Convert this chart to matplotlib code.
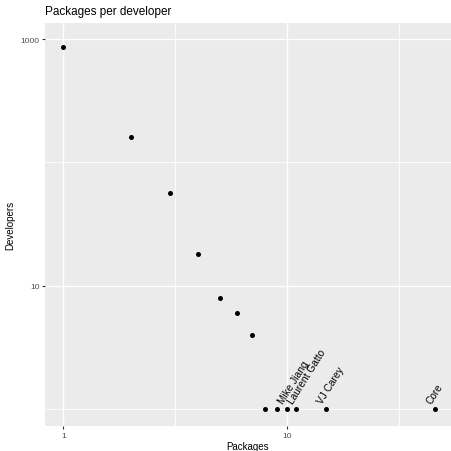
import matplotlib.pyplot as plt
from matplotlib.ticker import FixedLocator, NullFormatter

plt.rcParams["font.family"] = ["Liberation Sans", "DejaVu Sans"]

packages = [1, 2, 3, 4, 5, 6, 7, 8, 9, 10, 11, 15, 46]
developers = [857, 161, 57, 18, 8, 6, 4, 1, 1, 1, 1, 1, 1]

# labelled developers (packages, name)
label_pkgs = [10, 11, 15, 46]
label_names = ["Mike Jiang", "Laurent Gatto", "VJ Carey", "Core"]

fig = plt.figure(figsize=(4.51, 4.52), dpi=100)
ax = fig.add_axes([45 / 451, 25 / 452, 406 / 451, 403 / 452])
ax.set_facecolor("#EBEBEB")

ax.set_xscale("log")
ax.set_yscale("log")
ax.set_xlim(10 ** -0.082, 10 ** 1.733)
ax.set_ylim(10 ** -0.137, 10 ** 3.13)

ax.xaxis.set_major_locator(FixedLocator([1, 10]))
ax.xaxis.set_minor_locator(FixedLocator([10 ** 0.5, 10 ** 1.5]))
ax.yaxis.set_major_locator(FixedLocator([10, 1000]))
ax.yaxis.set_minor_locator(FixedLocator([1, 100]))
ax.xaxis.set_major_formatter(plt.FixedFormatter(["1", "10"]))
ax.yaxis.set_major_formatter(plt.FixedFormatter(["10", "1000"]))
ax.xaxis.set_minor_formatter(NullFormatter())
ax.yaxis.set_minor_formatter(NullFormatter())

ax.grid(True, which="major", color="white", linewidth=1.0)
ax.grid(True, which="minor", color="white", linewidth=0.6)
ax.set_axisbelow(True)
for s in ax.spines.values():
    s.set_visible(False)
ax.tick_params(which="major", length=2.5, width=0.8, color="#333333",
               labelsize=6, labelcolor="#4D4D4D", pad=1.5)
ax.tick_params(which="minor", length=0)

ax.scatter(packages, developers, s=13, color="black", zorder=3, linewidths=0)

for p, name in zip(label_pkgs, label_names):
    ax.annotate(name, (p, 1), xytext=(-1.5, 3), textcoords="offset points",
                rotation=58, rotation_mode="anchor", ha="left", va="bottom",
                fontsize=7.3, color="black")

ax.set_xlabel("Packages", fontsize=7, labelpad=1.5)
ax.set_ylabel("Developers", fontsize=7, labelpad=4)
fig.text(45 / 451, 1 - 12 / 452, "Packages per developer", fontsize=8.5,
         ha="left", va="center")

fig.savefig("out.png", dpi=100)
